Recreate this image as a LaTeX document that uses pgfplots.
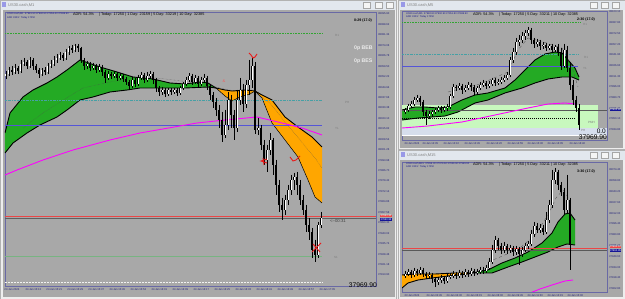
\documentclass[border=0pt]{standalone}
\usepackage{fontspec}
\setmainfont{Liberation Sans}
\usepackage{pgfplots}
\usepackage{pgfplotstable}
\pgfplotsset{compat=1.18}
\definecolor{cgray}{RGB}{168,168,168}
\definecolor{winbg}{RGB}{238,238,238}
\definecolor{titlebg}{RGB}{226,231,238}
\definecolor{framec}{RGB}{105,105,165}
\definecolor{ticktxt}{RGB}{30,30,120}
\definecolor{bandgreen}{RGB}{36,170,36}
\definecolor{bandorange}{RGB}{255,166,0}
\definecolor{mag}{RGB}{255,0,255}
\definecolor{slate}{RGB}{85,85,215}
\definecolor{tealdd}{RGB}{70,160,165}
\definecolor{dotgreen}{RGB}{50,165,50}
\definecolor{thingreen}{RGB}{120,180,130}
\definecolor{pricered}{RGB}{235,70,70}
\definecolor{lgreen}{RGB}{200,248,190}
\definecolor{paleblue}{RGB}{214,222,236}
\definecolor{annred}{RGB}{235,25,25}
\definecolor{lbltxt}{RGB}{125,125,125}
\definecolor{hdrblue}{RGB}{25,25,140}
\definecolor{boxblue}{RGB}{20,20,150}

% ---------------- M1 (main) candles ----------------
\pgfplotstableread{
x h l
6 71 79
9 67 76
12 66 75
15 64 74
18 66 74
21 60 73
24 58 66
27 60 69
30 57 68
33 58 70
36 64 73
39 68 78
42 68 76
45 67 75
48 63 74
51 60 68
54 56 66
57 54 63
60 52 60
63 53 61
66 49 60
69 46 55
72 45 53
75 44 52
78 44 52
81 47 63
84 58 70
87 61 69
90 62 71
93 63 70
96 64 73
99 64 72
102 65 76
105 70 83
108 71 80
111 72 79
114 71 78
117 72 81
120 73 80
123 74 82
126 77 85
129 80 90
132 77 88
135 78 87
138 75 86
141 72 80
144 73 83
147 72 82
150 71 79
153 72 84
156 78 92
159 86 96
162 87 95
165 88 97
168 88 96
171 88 95
174 88 94
177 88 96
180 86 95
183 82 90
186 77 86
189 73 82
192 74 85
195 75 84
198 76 88
201 77 86
204 74 83
207 76 90
210 84 100
213 92 108
216 98 116
219 105 128
222 112 142
225 110 138
228 92 130
231 95 128
234 110 140
237 90 132
240 78 105
243 84 112
246 80 108
249 60 95
252 58 88
255 62 134
258 118 135
261 125 150
264 140 165
267 145 172
270 133 155
273 138 175
276 160 195
279 180 212
282 198 220
285 195 215
288 185 205
291 175 195
294 173 190
297 172 195
300 180 205
303 195 215
306 205 232
309 218 240
312 228 258
315 240 262
318 222 258
321 212 228
}\mainwick
\pgfplotstableread{
x t b
6 74 76
9 70 74
15 68 72
21 64 71
24 62 64
30 60 66
42 70 74
48 66 72
51 64 66
54 60 64
57 58 60
60 55 58
66 52 58
69 48 52
75 46 50
87 64 66
93 66 68
99 67 70
108 74 78
114 74 76
120 76 78
132 80 86
138 78 84
141 75 78
147 76 80
150 74 76
162 90 92
168 90 94
174 90 92
180 88 93
183 84 88
186 80 84
189 76 80
195 78 82
201 80 84
204 78 80
225 125 135
228 100 125
237 100 128
240 90 100
246 85 104
249 80 85
252 66 80
258 128 130
267 150 160
270 140 150
285 200 210
288 190 200
291 180 190
294 177 180
318 225 255
321 218 225
}\mainup
\pgfplotstableread{
x t b
12 70 72
18 68 71
27 62 66
33 60 66
36 66 70
39 70 74
45 70 72
63 55 58
72 48 50
78 46 48
81 48 60
84 60 66
90 64 68
96 66 70
102 67 72
105 72 78
111 74 76
117 74 78
123 76 79
126 79 82
129 82 86
135 80 84
144 75 80
153 74 80
156 80 88
159 88 92
165 90 94
171 90 92
177 90 93
192 76 82
198 78 84
207 78 86
210 86 95
213 95 102
216 102 110
219 110 120
222 120 135
231 100 115
234 115 128
243 90 104
255 66 130
261 128 145
264 145 160
273 140 165
276 165 185
279 185 205
282 205 210
297 177 185
300 185 200
303 200 210
306 210 225
309 225 232
312 232 250
315 250 255
}\maindn

% ---------------- M5 (top right) ----------------
\pgfplotstableread{
x h l
405 108 114
408 104 112
411 101 108
414 97 106
417 95 102
420 96 106
423 100 116
426 110 125
429 111 119
432 110 117
435 108 114
438 106 112
441 106 113
444 106 112
447 104 111
450 94 109
453 84 98
456 85 91
459 83 90
462 84 94
465 85 92
468 82 90
471 83 91
474 85 95
477 86 94
480 82 90
483 80 87
486 81 89
489 81 88
492 78 86
495 78 86
498 79 85
501 77 84
504 75 82
507 72 80
510 57 77
513 48 63
516 38 55
519 35 46
522 32 43
525 30 40
528 27 36
531 28 44
534 38 48
537 39 47
540 40 50
543 42 49
546 43 51
549 44 50
552 44 53
555 45 52
558 44 56
561 48 70
564 44 68
567 46 72
570 62 90
573 80 105
576 96 112
579 104 130
}\trwick
\pgfplotstableread{
x t b
405 110 112
408 106 110
411 104 106
414 100 104
417 98 100
429 114 116
432 112 114
435 110 112
438 108 110
444 108 110
447 107 108
450 96 107
453 87 96
459 86 88
465 88 90
468 85 88
477 88 92
480 85 88
483 83 85
489 84 86
492 80 84
498 82 83
501 80 82
504 78 80
507 75 78
510 60 75
513 52 60
516 42 52
519 40 42
522 36 40
525 33 36
528 30 33
537 42 44
543 45 46
549 46 48
555 47 50
564 50 66
}\trup
\pgfplotstableread{
x t b
420 98 102
423 102 112
426 112 116
441 108 110
456 87 88
462 86 90
471 85 87
474 87 92
486 83 86
495 80 83
531 30 40
534 40 44
540 42 46
546 45 48
552 46 50
558 47 52
561 52 66
567 50 68
570 68 85
573 85 100
576 100 108
579 108 125
}\trdn

% ---------------- M15 (bottom right) ----------------
\pgfplotstableread{
x h l
405 271 278
408 269 276
411 270 278
414 268 277
417 269 276
420 267 275
423 268 277
426 272 279
429 272 278
432 273 283
435 277 287
438 277 285
441 275 283
444 276 284
447 274 283
450 273 279
453 271 278
456 272 279
459 270 278
462 271 278
465 269 277
468 270 277
471 268 276
474 269 276
477 269 275
480 267 274
483 267 274
486 265 273
489 258 270
492 245 264
495 236 253
498 238 250
501 243 254
504 242 253
507 244 254
510 245 253
513 246 256
516 246 255
519 247 265
522 247 257
525 243 252
528 241 249
531 230 246
534 222 237
537 223 233
540 224 233
543 225 235
546 212 234
549 200 223
552 170 208
555 168 184
558 170 190
561 182 196
564 188 214
567 175 213
570 198 270
}\brwick
\pgfplotstableread{
x t b
405 274 276
408 272 274
414 271 275
420 270 273
429 275 276
438 280 282
441 278 280
447 277 281
450 276 277
453 274 276
459 273 276
465 272 275
471 271 274
477 272 273
480 270 272
486 268 271
489 262 268
492 250 262
495 240 250
504 246 250
510 248 250
516 249 252
522 250 254
525 246 250
528 244 246
531 234 244
534 226 234
540 228 230
546 220 232
549 205 220
552 180 205
555 172 180
567 200 210
}\brup
\pgfplotstableread{
x t b
411 272 275
417 271 273
423 270 274
426 274 276
432 275 279
435 279 282
444 278 281
456 274 276
462 273 275
468 272 274
474 271 273
483 270 271
498 240 246
501 246 250
507 246 250
513 248 252
519 249 254
537 226 230
543 228 232
558 172 185
561 185 192
564 192 210
570 200 245
}\brdn

\pgfplotsset{
  mt/.style={scale only axis, y dir=reverse,
    axis background/.style={fill=cgray},
    axis line style={draw=framec, line width=0.6pt},
    xtick pos=left, ytick pos=right,
    tick align=outside, major tick length=1.2pt,
    tick style={draw=framec, line width=0.3pt},
    yticklabel style={font=\fontsize{2.7}{3}\selectfont, text=ticktxt, inner sep=0.8pt},
    xticklabel style={font=\fontsize{2.7}{3}\selectfont, text=ticktxt, anchor=north west, inner sep=0.8pt, xshift=-1.5pt},
    /pgf/number format/assume math mode=true},
  wick/.style={only marks, mark=none, mark size=0pt, mark options={draw=none, fill=none},
    error bars/.cd, y dir=plus, y explicit, error mark=none,
    error bar style={draw=black, solid, line width=0.45pt}},
  bodyk/.style={only marks, mark=none, mark size=0pt, mark options={draw=none, fill=none},
    error bars/.cd, y dir=plus, y explicit, error mark=none,
    error bar style={draw=black, solid, line width=1.9pt}},
  bodyw/.style={only marks, mark=none, mark size=0pt, mark options={draw=none, fill=none},
    error bars/.cd, y dir=plus, y explicit, error mark=none,
    error bar style={draw=white, solid, line width=1.0pt}},
  edge/.style={black, line width=0.9pt},
  thinedge/.style={black, line width=0.5pt},
  ddot/.style={dash pattern=on 2pt off 1pt on 0.5pt off 1pt},
}
\newcommand{\tinyf}{\fontsize{2.5}{3}\selectfont}
\newcommand{\hdrf}{\fontsize{3.8}{4.5}\selectfont}

\begin{document}
\begin{tikzpicture}[x=1pt,y=1pt]
\fill[winbg] (0,0) rectangle (625,299);
\useasboundingbox (0,0) rectangle (625,299);
% windows
\fill[titlebg] (0,289) rectangle (396,299);
\fill[cgray] (3,2) rectangle (395,289);
\fill[titlebg] (398,289) rectangle (625,299);
\fill[cgray] (400,151) rectangle (623,289);
\fill[titlebg] (398,139) rectangle (625,149);
\fill[cgray] (400,2) rectangle (623,139);
\draw[gray!60, line width=0.3pt] (0.2,0.2) rectangle (396,298.8);
\draw[gray!60, line width=0.3pt] (398,150) rectangle (624.8,298.8);
\draw[gray!60, line width=0.3pt] (398,0.2) rectangle (624.8,149);
% title buttons
\foreach \bx in {363,375,386}{\draw[gray!70, fill=white!92!gray, line width=0.3pt] (\bx,291) rectangle (\bx+7,297);}
\foreach \bx in {590,601,612}{\draw[gray!70, fill=white!92!gray, line width=0.3pt] (\bx,291) rectangle (\bx+7,297);
  \draw[gray!70, fill=white!92!gray, line width=0.3pt] (\bx,141) rectangle (\bx+7,147);}
\fill[slate!60] (2,291.5) rectangle (6,296.5);
\fill[slate!60] (401,291.5) rectangle (405,296.5);
\fill[slate!60] (401,141.5) rectangle (405,146.5);
\node[anchor=west, inner sep=0, font=\fontsize{4}{4.5}\selectfont, text=gray] at (8,294) {US30.cash,M1};
\node[anchor=west, inner sep=0, font=\fontsize{4}{4.5}\selectfont, text=gray] at (407,294) {US30.cash,M5};
\node[anchor=west, inner sep=0, font=\fontsize{4}{4.5}\selectfont, text=gray] at (407,144) {US30.cash,M15};

% ================= MAIN M1 =================
\begin{axis}[mt, at={(5pt,13pt)}, anchor=south west, width=371pt, height=274pt,
  xmin=5, xmax=376, ymin=12, ymax=286,
  xtick={5,26,...,320},
  xticklabels={24 Jan 2024,24 Jan 15:13,24 Jan 15:21,24 Jan 15:29,24 Jan 15:37,24 Jan 15:45,24 Jan 15:53,24 Jan 16:01,24 Jan 16:09,24 Jan 16:17,24 Jan 16:25,24 Jan 16:33,24 Jan 16:41,24 Jan 16:49,24 Jan 16:57,24 Jan 17:05},
  ytick={14,24.44,...,276},
  yticklabels={38095.90,38088.62,38081.34,38074.06,38066.78,38059.50,38052.22,38044.94,38037.66,38030.38,38023.10,38015.82,38008.54,38001.26,37993.98,37986.70,37979.42,37972.14,37964.86,37957.58,37950.30,37943.02,37935.74,37928.46,37921.18,37913.90}]
% bands
\addplot[fill=bandgreen, draw=none] coordinates {(5,133)(10,113)(23,97)(33,90)(47,83)(57,77)(67,70)(80,60)(100,67)(117,72)(133,77)(153,79)(170,83)(185,84)(200,82)(208,83)(216,88)(208,87)(185,88)(157,88)(140,88)(127,90)(110,92)(93,97)(80,100)(67,110)(57,117)(40,125)(27,133)(13,143)(5,153)};
\addplot[fill=bandorange, draw=none] coordinates {(216,88)(225,90)(232,91)(245,90)(255,91)(250,94)(240,97)(232,101)(225,96)};
\addplot[fill=bandorange, draw=none] coordinates {(255,91)(262,95)(272,100)(285,117)(298,127)(312,137)(322,147)(322,203)(315,197)(308,180)(298,157)(285,140)(272,123)(262,98)};
\addplot[edge] coordinates {(5,133)(10,113)(23,97)(33,90)(47,83)(57,77)(67,70)(80,60)(100,67)(117,72)(133,77)(153,79)(170,83)(185,84)(200,82)(208,83)(216,88)(225,90)(232,91)(245,90)(255,91)(262,95)(272,100)(285,117)(298,127)(312,137)(322,147)};
\addplot[edge] coordinates {(5,153)(13,143)(27,133)(40,125)(57,117)(67,110)(80,100)(93,97)(110,92)(127,90)(140,88)(157,88)(185,88)(208,87)(216,88)};
\addplot[thinedge] coordinates {(216,88)(225,96)(232,101)(240,97)(250,94)(255,91)(262,98)(272,123)(285,140)(298,157)(308,180)(315,197)(322,203)};
\addplot[black!70, densely dotted, line width=0.35pt] coordinates {(23,128)(40,115)(60,102)(83,88)(110,82)(133,78)(157,78)(190,82)(205,84)(220,88)(240,92)(255,93)(270,103)(285,122)(300,140)(315,158)(322,168)};
% horizontal levels
\addplot[dotgreen, densely dotted, line width=0.6pt] coordinates {(5,33)(322,33)};
\addplot[tealdd, ddot, line width=0.45pt] coordinates {(5,100)(322,100)};
\addplot[slate, line width=0.5pt] coordinates {(5,125)(322,125)};
\addplot[gray!75!black, line width=0.4pt] coordinates {(5,218)(376,218)};
\addplot[pricered, line width=0.6pt] coordinates {(5,216)(376,216)};
\addplot[thingreen, line width=0.4pt] coordinates {(5,256)(322,256)};
\addplot[white!90!gray, densely dotted, line width=0.5pt] coordinates {(5,282)(322,282)};
\addplot[mag, line width=0.9pt] coordinates {(5,175)(17,170)(43,160)(73,150)(110,140)(140,133)(197,123)(225,120)(257,117)(278,122)(302,128)(322,135)};
% candles
\addplot[wick] table[x=x, y=h, y error plus expr=\thisrow{l}-\thisrow{h}] {\mainwick};
\addplot[bodyk] table[x=x, y=t, y error plus expr=\thisrow{b}-\thisrow{t}] {\maindn};
\addplot[bodyk] table[x=x, y=t, y error plus expr=\thisrow{b}-\thisrow{t}] {\mainup};
\addplot[bodyw] table[x=x, y=t, y error plus expr=\thisrow{b}-\thisrow{t}] {\mainup};
% red annotations
\addplot[annred, line width=0.9pt] coordinates {(249,53)(251,55)(253,58)(255,57)(257,54)};
\addplot[annred, line width=0.8pt] coordinates {(267,159)(261,161)(267,163)};
\addplot[annred, line width=0.8pt] coordinates {(263,158)(264,165)};
\addplot[annred, line width=0.9pt] coordinates {(290,157)(293,161)(296,160)(300,156)};
\addplot[annred, line width=0.9pt] coordinates {(313,244)(320,252)};
\addplot[annred, line width=0.9pt] coordinates {(312,252)(321,243)};
\end{axis}

% ================= TOP RIGHT M5 =================
\begin{axis}[mt, at={(402pt,159pt)}, anchor=south west, width=205pt, height=129pt,
  xmin=402, xmax=607, ymin=11, ymax=140,
  xtick={405,423,444,465,487,508,528,548,570},
  xticklabels={24 Jan 2024,24 Jan 12:35,24 Jan 13:10,24 Jan 13:45,24 Jan 14:20,24 Jan 14:55,24 Jan 15:30,24 Jan 16:05,24 Jan 16:40},
  ytick={12,22.7,...,136},
  yticklabels={38103.10,38087.80,38072.50,38057.20,38041.90,38026.60,38011.30,37996.00,37980.70,37965.40,37950.10,37934.80}]
\addplot[fill=lgreen, draw=none] coordinates {(402,105)(598,105)(598,128)(402,128)};
\addplot[fill=paleblue, draw=none] coordinates {(402,128)(607,128)(607,135)(402,135)};
\addplot[white, line width=0.8pt] coordinates {(402,135.5)(607,135.5)};
\addplot[fill=bandgreen, draw=none] coordinates {(402,110)(415,107)(425,107)(438,108)(448,107)(462,100)(475,95)(488,93)(505,88)(515,80)(525,70)(535,60)(545,54)(555,52)(562,53)(568,60)(575,68)(579,77)(579,80)(572,77)(562,77)(548,79)(535,83)(522,88)(505,93)(488,100)(475,103)(458,112)(445,116)(432,117)(418,118)(402,120)};
\addplot[edge] coordinates {(402,110)(415,107)(425,107)(438,108)(448,107)(462,100)(475,95)(488,93)(505,88)(515,80)(525,70)(535,60)(545,54)(555,52)(562,53)(568,60)(575,68)(579,77)};
\addplot[edge] coordinates {(402,120)(418,118)(432,117)(445,116)(458,112)(475,103)(488,100)(505,93)(522,88)(535,83)(548,79)(562,77)(572,77)(579,80)};
\addplot[black!70, dashed, line width=0.3pt] coordinates {(448,92)(480,84)(508,72)(518,50)(528,38)(538,40)(552,45)(562,48)(572,67)(578,87)};
\addplot[dotgreen, densely dotted, line width=0.6pt] coordinates {(402,22)(580,22)};
\addplot[tealdd, ddot, line width=0.45pt] coordinates {(402,54)(578,54)};
\addplot[slate, line width=0.5pt] coordinates {(402,66)(578,66)};
\addplot[gray!70!black, line width=0.4pt] coordinates {(402,110)(607,110)};
\addplot[black, densely dotted, line width=1pt] coordinates {(402,119)(576,119)};
\addplot[mag, line width=0.9pt] coordinates {(402,128)(428,126)(462,122)(495,115)(528,108)(548,104)(565,103)(575,104)};
\addplot[wick] table[x=x, y=h, y error plus expr=\thisrow{l}-\thisrow{h}] {\trwick};
\addplot[bodyk] table[x=x, y=t, y error plus expr=\thisrow{b}-\thisrow{t}] {\trdn};
\addplot[bodyk] table[x=x, y=t, y error plus expr=\thisrow{b}-\thisrow{t}] {\trup};
\addplot[bodyw] table[x=x, y=t, y error plus expr=\thisrow{b}-\thisrow{t}] {\trup};
\end{axis}

% ================= BOTTOM RIGHT M15 =================
\begin{axis}[mt, at={(402pt,7pt)}, anchor=south west, width=205pt, height=130pt,
  xmin=402, xmax=607, ymin=162, ymax=292,
  xtick={405,427,447,467,488,508,528,548,568},
  xticklabels={23 Jan 2024,24 Jan 02:45,24 Jan 04:30,24 Jan 06:15,24 Jan 08:00,24 Jan 09:45,24 Jan 11:30,24 Jan 13:15,24 Jan 15:00},
  ytick={170,180.8,...,290},
  yticklabels={38074.40,38058.80,38043.20,38027.60,38012.00,37996.40,37980.80,37965.20,37949.60,37934.00,37918.40,37902.80}]
\addplot[fill=bandorange, draw=none] coordinates {(402,275)(415,274)(435,274)(455,273)(472,273)(468,274)(448,276)(432,278)(418,280)(408,283)(402,288)};
\addplot[fill=bandgreen, draw=none] coordinates {(472,273)(488,270)(502,263)(515,258)(528,252)(542,243)(552,233)(558,222)(565,214)(570,213)(575,220)(575,245)(567,244)(558,247)(548,252)(535,257)(522,262)(508,267)(492,273)(472,273)};
\addplot[edge] coordinates {(402,275)(415,274)(435,274)(455,273)(472,273)(488,270)(502,263)(515,258)(528,252)(542,243)(552,233)(558,222)(565,214)(570,213)(575,220)};
\addplot[edge] coordinates {(402,288)(408,283)(418,280)(432,278)(448,276)(468,274)(472,273)(492,273)(508,267)(522,262)(535,257)(548,252)(558,247)(567,244)(575,245)};
\addplot[black!70, dashed, line width=0.3pt] coordinates {(488,262)(505,255)(520,248)(535,235)(548,215)(556,198)(563,190)(570,200)};
\addplot[gray!70!black, line width=0.4pt] coordinates {(402,250)(607,250)};
\addplot[pricered, line width=0.6pt] coordinates {(402,248)(607,248)};
\addplot[mag, line width=0.9pt] coordinates {(530,293)(540,289)(552,285)(565,281)(573,280)};
\addplot[wick] table[x=x, y=h, y error plus expr=\thisrow{l}-\thisrow{h}] {\brwick};
\addplot[bodyk] table[x=x, y=t, y error plus expr=\thisrow{b}-\thisrow{t}] {\brdn};
\addplot[bodyk] table[x=x, y=t, y error plus expr=\thisrow{b}-\thisrow{t}] {\brup};
\addplot[bodyw] table[x=x, y=t, y error plus expr=\thisrow{b}-\thisrow{t}] {\brup};
\end{axis}

% ================= texts =================
% main
\node[anchor=west, inner sep=0, font=\tinyf, text=hdrblue] at (7,285) {US30.cash,M1 \ 37981.90 37982.90 37954.40 37969.90};
\node[anchor=west, inner sep=0, font=\tinyf, text=hdrblue] at (7,281) {ADR 332/2 \ Today 17250};
\node[anchor=west, inner sep=0, font=\hdrf] at (73,284) {ADR: 54.3\% \quad | Today: 17250 | 1 Day: 23159 | 5 Day: 33219 | 10 Day: 32385};
\node[anchor=west, inner sep=0, font=\fontsize{3.6}{4}\selectfont\bfseries] at (354,278) {0:29 (17.0)};
\node[anchor=west, inner sep=0, font=\fontsize{5.2}{6}\selectfont\bfseries, text=white!85!gray] at (354,251) {0p BEB};
\node[anchor=west, inner sep=0, font=\fontsize{5.2}{6}\selectfont\bfseries, text=white!85!gray] at (354,238) {0p BES};
\node[anchor=west, inner sep=0, font=\fontsize{3}{3}\selectfont, text=lbltxt] at (335,264) {R1};
\node[anchor=west, inner sep=0, font=\fontsize{3}{3}\selectfont, text=lbltxt] at (345,197) {PH};
\node[anchor=west, inner sep=0, font=\fontsize{3}{3}\selectfont, text=lbltxt] at (335,171) {YL};
\node[anchor=west, inner sep=0, font=\fontsize{3}{3}\selectfont, text=lbltxt] at (334,42) {S1};
\node[anchor=west, inner sep=0, font=\fontsize{4.3}{5}\selectfont, text=black!75] at (330,78) {<--00:31};
\node[anchor=east, inner sep=0, font=\fontsize{6.7}{7}\selectfont] at (377,14) {37969.90};
\node[inner sep=0, font=\fontsize{4}{4}\selectfont, text=annred!70] at (224,218) {\&};
\node[fill=pricered, text=white, inner sep=0.4pt, font=\fontsize{2.6}{3}\selectfont] at (386,83) {37963.30};
\node[fill=boxblue, text=white, inner sep=0.4pt, font=\fontsize{2.6}{3}\selectfont] at (386,79.3) {37960.95};
% top right
\node[anchor=west, inner sep=0, font=\tinyf, text=hdrblue] at (406,285.5) {US30.cash,M5 \ 37982.80 37992.90 37951.80 37969.90};
\node[anchor=west, inner sep=0, font=\tinyf, text=hdrblue] at (406,282) {ADR 332/2 \ Today 17250};
\node[anchor=west, inner sep=0, font=\hdrf] at (473,284) {ADR: 54.3\% \quad | Today: 17250 | 5 Day: 33211 | 10 Day: 32385};
\node[anchor=west, inner sep=0, font=\fontsize{3.6}{4}\selectfont\bfseries] at (577,279) {2:30 (17.0)};
\node[anchor=west, inner sep=0, font=\fontsize{3}{3}\selectfont, text=lbltxt] at (583,275) {H1};
\node[anchor=west, inner sep=0, font=\fontsize{3}{3}\selectfont, text=lbltxt] at (584,242) {R1};
\node[anchor=west, inner sep=0, font=\fontsize{3}{3}\selectfont, text=lbltxt] at (583,231) {Y1};
\node[anchor=west, inner sep=0, font=\fontsize{3}{3}\selectfont, text=lbltxt] at (588,177) {PMH};
\node[anchor=west, inner sep=0, font=\fontsize{3}{3}\selectfont, text=lbltxt] at (581,169) {PH};
\node[anchor=east, inner sep=0, font=\fontsize{6.5}{7}\selectfont] at (606,167.5) {0.0};
\node[anchor=east, inner sep=0, font=\fontsize{6.7}{7}\selectfont] at (607,162) {37969.90};
\node[fill=boxblue, text=white, inner sep=0.4pt, font=\fontsize{2.6}{3}\selectfont] at (615.5,189) {37963.80};
% bottom right
\node[anchor=west, inner sep=0, font=\tinyf, text=hdrblue] at (406,135.5) {US30.cash,M15 \ 37959.30 37979.60 37939.60 37969.90};
\node[anchor=west, inner sep=0, font=\tinyf, text=hdrblue] at (406,132) {ADR 332/2 \ Today 17250};
\node[anchor=west, inner sep=0, font=\hdrf] at (473,134) {ADR: 54.3\% \quad | Today: 17250 | 5 Day: 33211 | 10 Day: 32385};
\node[anchor=west, inner sep=0, font=\fontsize{3.6}{4}\selectfont\bfseries] at (577,127) {3:30 (17.0)};
\node[fill=pricered, text=white, inner sep=0.4pt, font=\fontsize{2.6}{3}\selectfont] at (615.5,52) {37964.10};
\node[fill=boxblue, text=white, inner sep=0.4pt, font=\fontsize{2.6}{3}\selectfont] at (615.5,48.4) {37960.95};
\end{tikzpicture}
\end{document}
